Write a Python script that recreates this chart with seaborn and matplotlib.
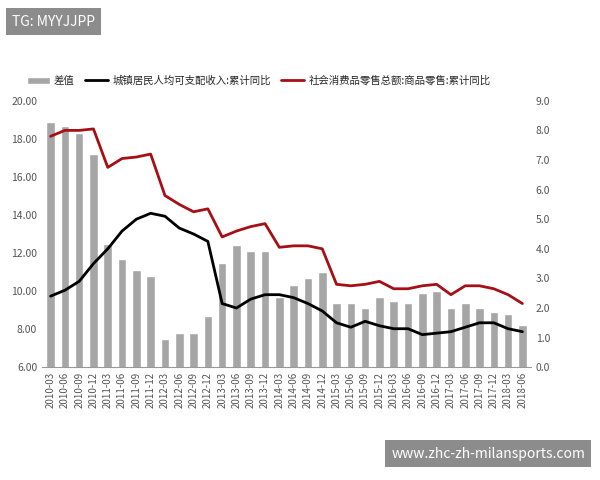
import numpy as np
import pandas as pd
import matplotlib
matplotlib.use("Agg")
import matplotlib.pyplot as plt
import seaborn as sns

quarters = [f"{y}-{m}" for y in range(2010, 2019) for m in ("03", "06", "09", "12")][:34]

diff = [18.9, 18.7, 18.3, 17.2, 12.5, 11.7, 11.1, 10.8, 7.5, 7.8, 7.8, 8.7,
        11.5, 12.4, 12.1, 12.1, 9.7, 10.3, 10.7, 11.0, 9.4, 9.4, 9.1, 9.7,
        9.5, 9.4, 9.9, 10.0, 9.1, 9.4, 9.1, 8.9, 8.8, 8.2]
income = [2.4, 2.6, 2.9, 3.5, 4.0, 4.6, 5.0, 5.2, 5.1, 4.7, 4.5, 4.25,
          2.15, 2.0, 2.3, 2.45, 2.45, 2.35, 2.15, 1.9, 1.5, 1.35, 1.55, 1.4,
          1.3, 1.3, 1.1, 1.15, 1.2, 1.35, 1.5, 1.5, 1.3, 1.2]
retail = [7.8, 8.0, 8.0, 8.05, 6.75, 7.05, 7.1, 7.2, 5.8, 5.5, 5.25, 5.35,
          4.4, 4.6, 4.75, 4.85, 4.05, 4.1, 4.1, 4.0, 2.8, 2.75, 2.8, 2.9,
          2.65, 2.65, 2.75, 2.8, 2.45, 2.75, 2.75, 2.65, 2.45, 2.15]

df = pd.DataFrame({"q": quarters, "diff": diff, "income": income, "retail": retail})
df["x"] = np.arange(len(df))

sns.set_style("white")
plt.rcParams["font.family"] = ["Noto Sans CJK SC", "DejaVu Sans"]

fig, ax = plt.subplots(figsize=(6, 4.8), dpi=100)
fig.subplots_adjust(left=0.07, right=0.885, top=0.79, bottom=0.235)
ax2 = ax.twinx()

sns.barplot(data=df, x="x", y="diff", color="#a6a6a6", width=0.6, ax=ax,
            saturation=1, label="差值", native_scale=False)
sns.lineplot(data=df, x="x", y="income", color="black", lw=2, ax=ax2,
             label="城镇居民人均可支配收入:累计同比", legend=False)
sns.lineplot(data=df, x="x", y="retail", color="#a50f15", lw=2, ax=ax2,
             label="社会消费品零售总额:商品零售:累计同比", legend=False)

ax.set_ylim(6, 20)
ax.set_yticks(np.arange(6, 20.1, 2))
ax.set_yticklabels([f"{v:.2f}" for v in np.arange(6, 20.1, 2)], fontsize=7.5, color="#555555")
ax2.set_ylim(0, 9)
ax2.set_yticks(np.arange(0, 9.1, 1))
ax2.set_yticklabels([f"{v:.1f}" for v in np.arange(0, 9.1, 1)], fontsize=7.5, color="#555555")
ax.set_xlim(-0.6, len(df) - 0.4)
ax.set_xticks(df["x"])
ax.set_xticklabels(quarters, rotation=90, fontsize=7, color="#555555")
for a in (ax, ax2):
    a.set_xlabel("")
    a.set_ylabel("")
    for s in a.spines.values():
        s.set_visible(False)
ax.spines["bottom"].set_visible(True)
ax.spines["bottom"].set_color("#999999")
ax.tick_params(axis="both", length=0)
ax2.tick_params(axis="both", length=0)

h1, l1 = ax.get_legend_handles_labels()
h2, l2 = ax2.get_legend_handles_labels()
ax.legend(h1 + h2, l1 + l2, loc="lower left", bbox_to_anchor=(-0.05, 1.02), ncol=3,
          frameon=False, fontsize=7.5, handlelength=2.2, columnspacing=1.0, handletextpad=0.4)

fig.text(0.02, 0.955, "TG: MYYJJPP", fontsize=10, color="white", va="center",
         bbox=dict(boxstyle="square,pad=0.45", fc="#8c8c8c", ec="none"))
fig.text(0.975, 0.055, "www.zhc-zh-milansports.com", fontsize=10, color="white",
         va="center", ha="right",
         bbox=dict(boxstyle="square,pad=0.45", fc="#8c8c8c", ec="none"))

fig.savefig("out.png", dpi=100)
